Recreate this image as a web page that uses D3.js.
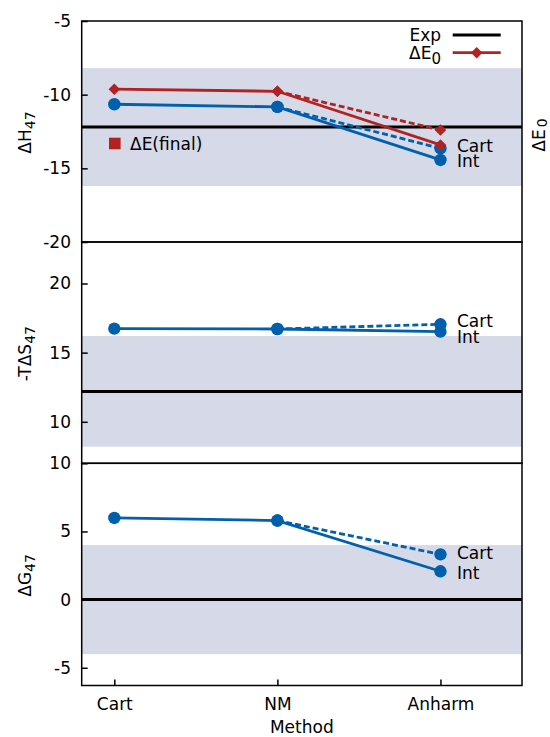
<!DOCTYPE html>
<html><head><meta charset="utf-8">
<script src="https://cdn.jsdelivr.net/npm/d3@7"></script>
<style>body{margin:0;background:#fff} text{font-family:"DejaVu Sans",sans-serif;}</style>
</head><body><svg id="c" width="550" height="737"></svg>
<script>
// ---- data ----
const methods = ["Cart", "NM", "Anharm"];
const dH_int   = [-10.65, -10.83, -14.43];
const dH_cart  = [null, -10.83, -13.64];
const dE0_int  = [-9.63, -9.77, -13.41];
const dE0_cart = [null, -9.77, -12.40];
const TdS_int  = [16.74, 16.71, 16.52];
const TdS_cart = [null, 16.71, 17.05];
const dG_int   = [5.99, 5.80, 2.08];
const dG_cart  = [null, 5.80, 3.32];
const expVals  = [-12.2, 12.2, 0];
const expErr   = 4;
const ticksH = [-5, -10, -15, -20];
const ticksS = [10, 15, 20];
const ticksG = [-5, 0, 5, 10];
const labelPosH = [-13.46, -14.48];
const labelPosS = [17.31, 16.14];
const labelPosG = [3.44, 1.93];

// ---- styles ----
const BLUE = "#0060ad", RED = "#b22222", BAND = "#d6d9e8";
const FS = 17;
const svg = d3.select("#c");
const L = 81.7, R = 522;
const x = d3.scaleLinear().domain([-0.2, 2.5]).range([L, R]);

const panels = [
  {top: 21, bot: 242, dom: [-20, -5], ticks: ticksH, exp: expVals[0],
   series: [{v: dH_int, c: BLUE, dash: null, m: "circle"}, {v: dH_cart, c: BLUE, dash: "6,3", m: "circle"},
            {v: dE0_int, c: RED, dash: null, m: "diamond"}, {v: dE0_cart, c: RED, dash: "6,3", m: "diamond"}],
   labels: labelPosH, ylab: ["ΔH", "47"]},
  {top: 242, bot: 463.3, dom: [7, 23], ticks: ticksS, exp: expVals[1],
   series: [{v: TdS_int, c: BLUE, dash: null, m: "circle"}, {v: TdS_cart, c: BLUE, dash: "6,3", m: "circle"}],
   labels: labelPosS, ylab: ["-TΔS", "47"]},
  {top: 463.3, bot: 685.5, dom: [-6.3, 10], ticks: ticksG, exp: expVals[2],
   series: [{v: dG_int, c: BLUE, dash: null, m: "circle"}, {v: dG_cart, c: BLUE, dash: "6,3", m: "circle"}],
   labels: labelPosG, ylab: ["ΔG", "47"]}
];

panels.forEach((p, pi) => {
  const y = d3.scaleLinear().domain(p.dom).range([p.bot, p.top]);
  const g = svg.append("g");
  g.append("rect").attr("x", L).attr("width", R - L)
    .attr("y", y(p.exp + expErr)).attr("height", y(p.exp - expErr) - y(p.exp + expErr))
    .attr("fill", BAND);
  g.append("line").attr("x1", L).attr("x2", R).attr("y1", y(p.exp)).attr("y2", y(p.exp))
    .attr("stroke", "#000").attr("stroke-width", 3);
  const line = d3.line().defined(d => d != null).x((d, i) => x(i)).y(d => y(d));
  p.series.forEach(s => {
    g.append("path").datum(s.v).attr("d", line).attr("fill", "none")
      .attr("stroke", s.c).attr("stroke-width", 2.8).attr("stroke-dasharray", s.dash);
  });
  p.series.forEach(s => {
    s.v.forEach((d, i) => {
      if (d == null) return;
      if (s.m === "circle") {
        g.append("circle").attr("cx", x(i)).attr("cy", y(d)).attr("r", 6.2).attr("fill", s.c);
      } else {
        g.append("path").attr("d", d3.symbol(d3.symbolDiamond2, 85)())
          .attr("transform", `translate(${x(i)},${y(d)})`).attr("fill", s.c);
      }
    });
  });
  ["Cart", "Int"].forEach((t, k) => {
    g.append("text").attr("x", 457).attr("y", y(p.labels[k])).attr("dy", "0.36em")
      .attr("font-size", FS).text(t);
  });
  const ax = g.append("g").attr("transform", `translate(${L},0)`)
    .call(d3.axisLeft(y).tickValues(p.ticks).tickSize(-6).tickPadding(10.7).tickFormat(d3.format("d")));
  ax.select(".domain").remove();
  ax.selectAll("line").attr("stroke", "#000").attr("stroke-width", 1.5);
  ax.selectAll("text").attr("font-size", FS).attr("font-family", "DejaVu Sans").attr("fill", "#000")
    .text(d => String(d));
  g.append("rect").attr("x", L).attr("y", p.top).attr("width", R - L).attr("height", p.bot - p.top)
    .attr("fill", "none").attr("stroke", "#000").attr("stroke-width", 1.5);
  const yl = g.append("text").attr("transform", `translate(31,${(p.top + p.bot) / 2 + 1}) rotate(-90)`)
    .attr("text-anchor", "middle").attr("font-size", FS);
  yl.append("tspan").text(p.ylab[0]);
  yl.append("tspan").attr("font-size", 14).attr("dy", 4).text(p.ylab[1]);

  if (pi === 2) {
    const xa = g.append("g").attr("transform", `translate(0,${p.bot})`)
      .call(d3.axisBottom(x).tickValues([0, 1, 2]).tickSize(-6).tickPadding(12.4).tickFormat(i => methods[i]));
    xa.select(".domain").remove();
    xa.selectAll("line").attr("stroke", "#000").attr("stroke-width", 1.5);
    xa.selectAll("text").attr("font-size", FS).attr("font-family", "DejaVu Sans").attr("fill", "#000");
  }
  if (pi === 0) {
    const lg = g.append("g");
    lg.append("text").attr("x", 441).attr("y", 35).attr("dy", "0.36em").attr("text-anchor", "end")
      .attr("font-size", FS).text("Exp");
    lg.append("line").attr("x1", 452.7).attr("x2", 500.7).attr("y1", 35).attr("y2", 35)
      .attr("stroke", "#000").attr("stroke-width", 3);
    const t2 = lg.append("text").attr("x", 441).attr("y", 52.7).attr("dy", "0.36em").attr("text-anchor", "end")
      .attr("font-size", FS);
    t2.append("tspan").text("ΔE");
    t2.append("tspan").attr("font-size", 15).attr("dy", 5).text("0");
    lg.append("line").attr("x1", 452.7).attr("x2", 500.7).attr("y1", 52.7).attr("y2", 52.7)
      .attr("stroke", RED).attr("stroke-width", 2.8);
    lg.append("path").attr("d", d3.symbol(d3.symbolDiamond2, 85)())
      .attr("transform", `translate(476.7,52.7)`).attr("fill", RED);
    lg.append("rect").attr("x", 109).attr("y", 137.7).attr("width", 11.6).attr("height", 11.6).attr("fill", RED);
    lg.append("text").attr("x", 130).attr("y", 143.5).attr("dy", "0.36em").attr("font-size", FS).text("ΔE(final)");
    const rl = g.append("text").attr("transform", `translate(545,135) rotate(-90)`)
      .attr("text-anchor", "middle").attr("font-size", FS);
    rl.append("tspan").text("ΔE");
    rl.append("tspan").attr("font-size", 14).attr("dy", 2).attr("dx", 2).text("0");
  }
});
svg.append("text").attr("x", (L + R) / 2).attr("y", 733).attr("text-anchor", "middle")
  .attr("font-size", FS).text("Method");
</script></body></html>
